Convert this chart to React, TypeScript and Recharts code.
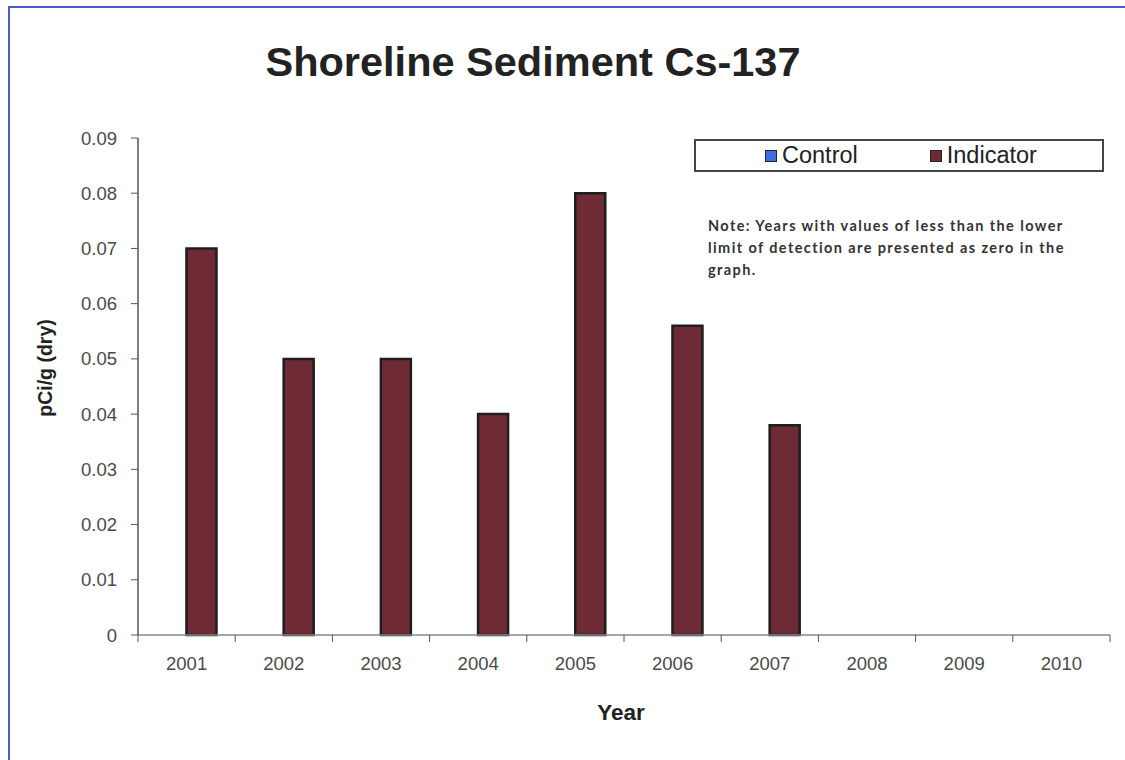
import React from 'react';
import { BarChart, Bar, XAxis, YAxis, Legend } from 'recharts';

// Sampling years and measured Cs-137 concentrations (pCi/g dry)
const years = ['2001', '2002', '2003', '2004', '2005', '2006', '2007', '2008', '2009', '2010'];
const controlValues = [0, 0, 0, 0, 0, 0, 0, 0, 0, 0];
const indicatorValues = [0.07, 0.05, 0.05, 0.04, 0.08, 0.056, 0.038, 0, 0, 0];
const yTicks = [0, 0.01, 0.02, 0.03, 0.04, 0.05, 0.06, 0.07, 0.08, 0.09];
const boundaryTicks = [0, 1, 2, 3, 4, 5, 6, 7, 8, 9, 10];

const data = years.map((year, i) => ({
  year,
  idx: i + 0.5,
  control: controlValues[i],
  indicator: indicatorValues[i],
}));

const CONTROL_COLOR = '#3d6fe0';
const INDICATOR_COLOR = '#6e2b35';
const TICK_STYLE = { fontFamily: 'Liberation Sans, Arial, sans-serif', fontSize: 18.5, fill: '#4a4a4a' };

const LegendBox = (props: any) => {
  const payload = props.payload || [];
  return (
    <div
      style={{
        boxSizing: 'border-box',
        width: 410,
        height: 33,
        border: '2px solid #444',
        background: '#fff',
        display: 'flex',
        alignItems: 'center',
        paddingLeft: 69,
        fontFamily: 'Liberation Sans, Arial, sans-serif',
        fontSize: 23.5,
        color: '#222',
      }}
    >
      {payload.map((entry: any, i: number) => (
        <div key={i} style={{ display: 'flex', alignItems: 'center', marginRight: i === 0 ? 72 : 0 }}>
          <span
            style={{
              display: 'inline-block',
              boxSizing: 'border-box',
              width: 12,
              height: 12,
              background: entry.color,
              border: '1px solid #222',
              marginRight: 5,
            }}
          />
          <span>{entry.value}</span>
        </div>
      ))}
    </div>
  );
};

const EmptyTick = () => <g />;

export default function App() {
  return (
    <div style={{ position: 'absolute', left: 0, top: 0, width: 1125, height: 760, overflow: 'hidden', background: '#fff' }}>
      <div
        style={{
          position: 'absolute',
          left: 8,
          top: 6,
          width: 1200,
          height: 800,
          borderLeft: '2px solid #4a5cc8',
          borderTop: '2px solid #4a5cc8',
        }}
      />
      <div
        style={{
          position: 'absolute',
          left: 0,
          top: 38,
          width: 1066,
          textAlign: 'center',
          fontFamily: 'Liberation Sans, Arial, sans-serif',
          fontWeight: 'bold',
          fontSize: 41.5,
          color: '#222',
        }}
      >
        Shoreline Sediment Cs-137
      </div>
      <div
        style={{
          position: 'absolute',
          left: 708,
          top: 215,
          width: 380,
          fontFamily: 'Lato, sans-serif',
          fontWeight: 'bold',
          fontSize: 14.5,
          letterSpacing: 1.4,
          lineHeight: '22px',
          color: '#333',
        }}
      >
        Note: Years with values of less than the lower limit of detection are presented as zero in the graph.
      </div>
      <div
        style={{
          position: 'absolute',
          left: 0,
          top: 700,
          width: 1242,
          textAlign: 'center',
          fontFamily: 'Liberation Sans, Arial, sans-serif',
          fontWeight: 'bold',
          fontSize: 22.5,
          color: '#222',
        }}
      >
        Year
      </div>
      <div
        style={{
          position: 'absolute',
          left: 45,
          top: 368,
          transform: 'translate(-50%, -50%) rotate(-90deg)',
          whiteSpace: 'nowrap',
          fontFamily: 'Liberation Sans, Arial, sans-serif',
          fontWeight: 'bold',
          fontSize: 19.5,
          color: '#222',
        }}
      >
        pCi/g (dry)
      </div>
      <div style={{ position: 'absolute', left: 0, top: 0 }}>
        <BarChart
          width={1125}
          height={760}
          data={data}
          margin={{ top: 138, right: 15, bottom: 95, left: 0 }}
          barCategoryGap="19%"
          barGap={0}
        >
          <XAxis
            xAxisId="bounds"
            dataKey="idx"
            type="number"
            domain={[0, 10]}
            ticks={boundaryTicks}
            height={1}
            tick={EmptyTick}
            tickSize={7}
            tickLine={{ stroke: '#555' }}
            axisLine={{ stroke: '#888', strokeWidth: 1.5 }}
            allowDataOverflow
          />
          <XAxis
            xAxisId="years"
            dataKey="year"
            height={29}
            axisLine={false}
            tickLine={false}
            tick={TICK_STYLE}
            tickMargin={15}
            interval={0}
          />
          <YAxis
            width={138}
            domain={[0, 0.09]}
            ticks={yTicks}
            interval={0}
            tickFormatter={(v: number) => (v === 0 ? '0' : v.toFixed(2))}
            tick={TICK_STYLE}
            tickSize={7}
            tickMargin={14}
            axisLine={{ stroke: '#555', strokeWidth: 1.5 }}
            tickLine={{ stroke: '#555' }}
          />
          <Legend
            layout="horizontal"
            verticalAlign="middle"
            align="center"
            content={<LegendBox />}
            wrapperStyle={{ position: 'absolute', left: 694, top: 139, width: 410 }}
          />
          <Bar
            xAxisId="years"
            dataKey="control"
            name="Control"
            fill={CONTROL_COLOR}
            isAnimationActive={false}
          />
          <Bar
            xAxisId="years"
            dataKey="indicator"
            name="Indicator"
            fill={INDICATOR_COLOR}
            stroke="#1e1e1e"
            strokeWidth={2.5}
            isAnimationActive={false}
          />
        </BarChart>
      </div>
    </div>
  );
}
